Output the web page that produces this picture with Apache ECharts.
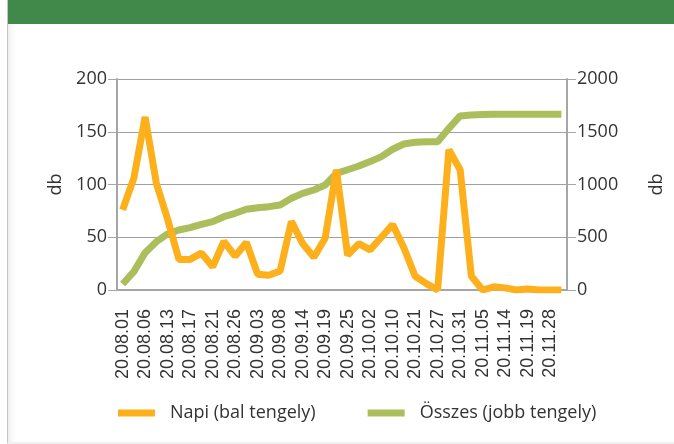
<!DOCTYPE html>
<html>
<head>
<meta charset="utf-8">
<script src="https://cdn.jsdelivr.net/npm/echarts@6/dist/echarts.min.js"></script>
<style>
body { margin: 0; background: #fff; }
.card {
    position: absolute; left: 7px; top: 0; width: 667px; height: 442px;
    border-left: 1px solid #c4c4c4; border-bottom: 2px solid #f0f0f0;
    box-shadow: inset 6px 0 8px -6px #ddd;
}
.head { position: absolute; left: 8px; top: 0; width: 666px; height: 24px; background: #41894a; }
#chart { position: absolute; left: 0; top: 0; width: 674px; height: 444px; }
</style>
</head>
<body>
<div class="card"></div>
<div class="head"></div>
<div id="chart"></div>
<script>
// napok (40 kategória, minden második felirat látszik)
var days = ['20.08.01', '20.08.03', '20.08.06', '20.08.10', '20.08.13', '20.08.14', '20.08.17', '20.08.19',
    '20.08.21', '20.08.24', '20.08.26', '20.08.31', '20.09.03', '20.09.06', '20.09.08', '20.09.11',
    '20.09.14', '20.09.16', '20.09.19', '20.09.22', '20.09.25', '20.09.29', '20.10.02', '20.10.06',
    '20.10.10', '20.10.15', '20.10.21', '20.10.24', '20.10.27', '20.10.29', '20.10.31', '20.11.03',
    '20.11.05', '20.11.10', '20.11.14', '20.11.16', '20.11.19', '20.11.24', '20.11.28', '20.11.30'];

// napi esetszám (bal tengely)
var napi = [76, 106, 164, 101, 67, 29, 29, 35, 22, 46, 32, 45, 15, 14, 18, 65, 44, 31, 49, 114,
    33, 44, 38, 50, 62, 40, 13, 6, 0, 133, 114, 13, 0, 3, 2, 0, 1, 0, 0, 0];

// összesített (jobb tengely)
var osszes = [57, 174, 354, 458, 531, 569, 591, 622, 648, 695, 727, 765, 780, 790, 806, 869, 916, 948, 995, 1106,
    1140, 1175, 1217, 1264, 1334, 1384, 1400, 1406, 1406, 1533, 1650, 1659, 1663, 1665, 1666, 1666, 1667, 1667, 1667, 1667];

var chart = echarts.init(document.getElementById('chart'));

var axisGray = '#a6a6a6';
var txt = '#333';

var option = {
    animation: false,
    grid: { left: 117, right: 103, top: 79, bottom: 154 },
    legend: {
        left: 113,
        top: 399,
        icon: 'rect',
        itemWidth: 37,
        itemHeight: 7,
        itemGap: 52,
        textStyle: { fontFamily: 'Open Sans', fontSize: 18, color: txt, padding: [0, 0, 0, 10] },
        data: ['Napi (bal tengely)', 'Összes (jobb tengely)']
    },
    xAxis: {
        type: 'category',
        data: days,
        axisLine: { lineStyle: { color: axisGray, width: 2 } },
        axisTick: { interval: 1, length: 8, lineStyle: { color: axisGray, width: 1 } },
        axisLabel: {
            interval: 1, rotate: 90, margin: 19,
            fontFamily: 'Liberation Sans', fontSize: 18, color: txt
        }
    },
    yAxis: [{
        type: 'value', min: 0, max: 200, interval: 50,
        name: 'db', nameLocation: 'middle', nameGap: 43,
        nameTextStyle: { fontFamily: 'Open Sans', fontSize: 18, color: txt },
        axisLine: { show: true, lineStyle: { color: axisGray, width: 2 } },
        axisTick: { show: true, length: 9, lineStyle: { color: axisGray } },
        axisLabel: { margin: 10, fontFamily: 'Open Sans', fontSize: 18, color: txt },
        splitLine: { lineStyle: { color: '#a0a0a0', width: 1 } }
    }, {
        type: 'value', min: 0, max: 2000, interval: 500,
        name: 'db', nameLocation: 'middle', nameGap: 81,
        nameTextStyle: { fontFamily: 'Open Sans', fontSize: 18, color: txt },
        axisLine: { show: true, lineStyle: { color: axisGray, width: 2 } },
        axisTick: { show: true, length: 9, lineStyle: { color: axisGray } },
        axisLabel: {
            margin: 10, fontFamily: 'Open Sans', fontSize: 18, color: txt,
            formatter: function (v) { return String(v); }
        },
        splitLine: { show: false }
    }],
    series: [{
        name: 'Napi (bal tengely)',
        type: 'line',
        yAxisIndex: 0,
        data: napi,
        symbol: 'none',
        color: '#fdb01b',
        lineStyle: { width: 7, color: '#fdb01b' },
        z: 3
    }, {
        name: 'Összes (jobb tengely)',
        type: 'line',
        yAxisIndex: 1,
        data: osszes,
        symbol: 'none',
        color: '#abbe5b',
        lineStyle: { width: 7, color: '#abbe5b' },
        z: 2
    }]
};
chart.setOption(option);
</script>
</body>
</html>
